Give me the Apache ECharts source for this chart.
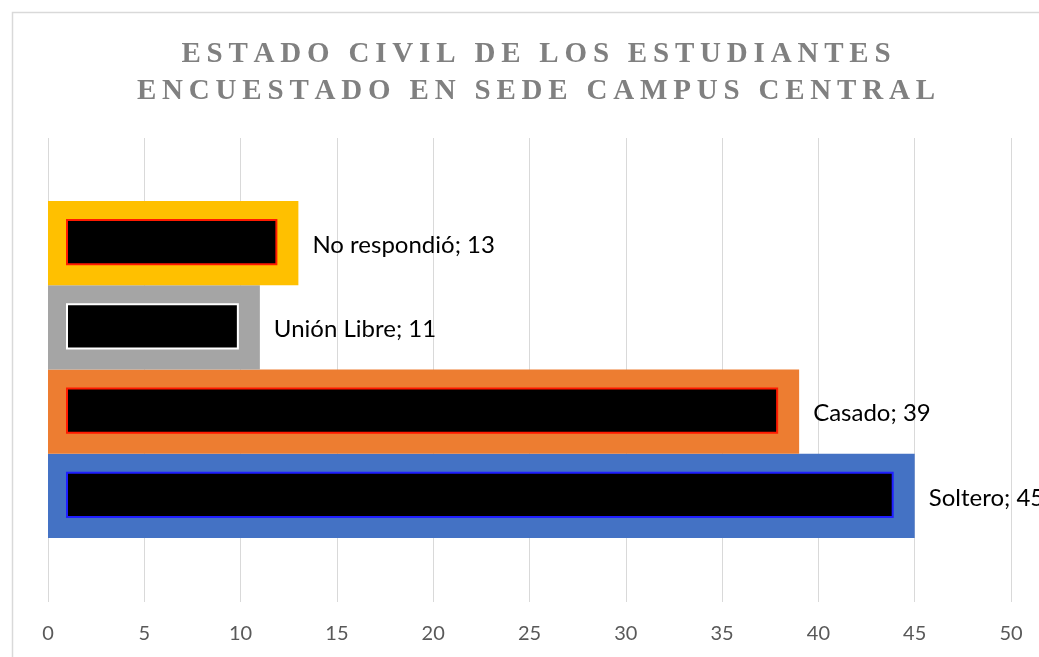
<!DOCTYPE html>
<html>
<head>
<meta charset="utf-8">
<script src="https://cdn.jsdelivr.net/npm/echarts@6/dist/echarts.min.js"></script>
<style>
  html, body { margin: 0; padding: 0; background: #fff; }
  #chart { width: 1039px; height: 657px; }
</style>
</head>
<body>
<div id="chart"></div>
<script>
// datos
let categories = ['Soltero', 'Casado', 'Unión Libre', 'No respondió'];
let values = [45, 39, 11, 13];
let x_ticks = [0, 50, 5];  // min, max, intervalo

let title_lines = ['ESTADO CIVIL DE LOS ESTUDIANTES', 'ENCUESTADO EN SEDE CAMPUS CENTRAL'];

// estilos de cada barra
let bar_colors = ['#4472C4', '#ED7D31', '#A5A5A5', '#FFC000'];
let edge_colors = ['#1f1fff', '#ff1a00', '#ffffff', '#ff1a00'];

// espaciado entre letras del titulo (espacio fino)
function spaced(s) {
    return s.split('').join('\u2009');
}

let chart = echarts.init(document.getElementById('chart'));

function render_bar(params, api) {
    let idx = api.value(1);
    let start = api.coord([0, idx]);
    let end = api.coord([api.value(0), idx]);
    let h = api.size([0, 1])[1];
    let top = start[1] - h / 2;
    let w = end[0] - start[0];
    return {
        type: 'group',
        children: [
            {
                type: 'rect',
                shape: {x: start[0], y: top, width: w, height: h},
                style: {fill: bar_colors[idx]}
            },
            {
                type: 'rect',
                shape: {x: start[0] + 19, y: top + 19, width: w - 41, height: h - 40},
                style: {fill: '#000', stroke: edge_colors[idx], lineWidth: 2}
            },
            {
                type: 'text',
                x: end[0] + 14,
                y: start[1] + 2,
                style: {
                    text: categories[idx] + '; ' + api.value(0),
                    fill: '#000',
                    fontSize: 24,
                    fontFamily: 'Lato',
                    verticalAlign: 'middle'
                }
            }
        ]
    };
}

let option = {
    animation: false,
    title: {
        text: title_lines.map(spaced).join('\n'),
        left: 531,
        textAlign: 'center',
        top: 31,
        textStyle: {
            fontFamily: 'Liberation Serif',
            fontWeight: 'bold',
            fontSize: 29,
            color: '#808080',
            lineHeight: 37
        }
    },
    graphic: [{
        type: 'rect',
        shape: {x: 12.5, y: 12.5, width: 1100, height: 700},
        style: {fill: 'none', stroke: '#d9d9d9', lineWidth: 1.5},
        silent: true
    }],
    grid: [
        {left: 48, right: 28, top: 138, bottom: 55},
        {left: 48, right: 28, top: 201, bottom: 119}
    ],
    xAxis: [
        {
            gridIndex: 0,
            type: 'value',
            min: x_ticks[0],
            max: x_ticks[1],
            interval: x_ticks[2],
            axisLine: {show: false},
            axisTick: {show: false},
            splitLine: {lineStyle: {color: '#d9d9d9', width: 1}},
            axisLabel: {color: '#595959', fontSize: 20, fontFamily: 'Lato', margin: 22}
        },
        {
            gridIndex: 1,
            type: 'value',
            min: x_ticks[0],
            max: x_ticks[1],
            show: false
        }
    ],
    yAxis: [
        {
            gridIndex: 0,
            type: 'category',
            data: categories,
            show: false
        },
        {
            gridIndex: 1,
            type: 'category',
            data: categories,
            show: false
        }
    ],
    series: [{
        type: 'custom',
        xAxisIndex: 1,
        yAxisIndex: 1,
        renderItem: render_bar,
        encode: {x: 0, y: 1},
        data: values.map((v, i) => [v, i])
    }]
};

chart.setOption(option);
</script>
</body>
</html>
